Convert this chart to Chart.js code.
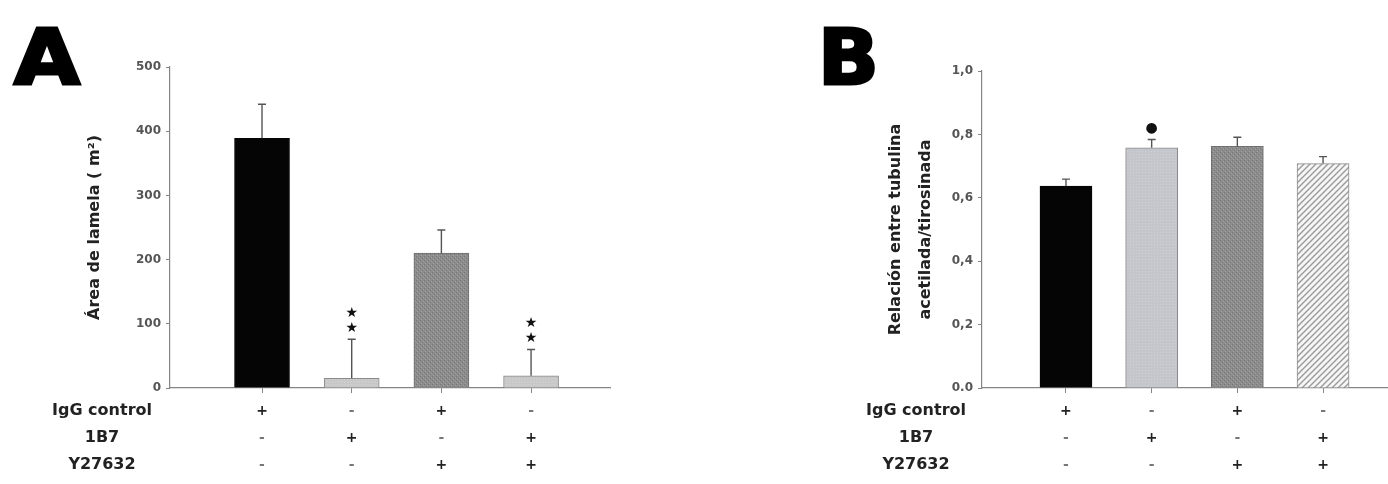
<!DOCTYPE html>
<html>
<head>
<meta charset="utf-8">
<script src="https://cdn.jsdelivr.net/npm/chart.js@4.4.1/dist/chart.umd.min.js"></script>
<style>
html, body { margin: 0; padding: 0; background: #fff; }
#wrap { position: relative; width: 1388px; height: 484px; overflow: hidden; }
#boxA { position: absolute; left: 0; top: 0; width: 700px; height: 484px; }
#boxB { position: absolute; left: 700px; top: 0; width: 688px; height: 484px; }
</style>
</head>
<body>
<div id="wrap">
  <div id="boxA"><canvas id="chartA"></canvas></div>
  <div id="boxB"><canvas id="chartB"></canvas></div>
</div>
<script>
// grupos y filas de tratamiento
const groups = [1, 2, 3, 4];
const rowLabels = ['IgG control', '1B7', 'Y27632'];
const signIgG = ['+', '-', '+', '-'];
const sign1B7 = ['-', '+', '-', '+'];
const signY = ['-', '-', '+', '+'];

// panel A
const areaMean = [389, 15, 210, 19];
const areaErr = [53, 61, 36, 41];
const areaSig = ['', '★★', '', '★★'];
const areaTicks = ['0', '100', '200', '300', '400', '500'];

// panel B
const ratioMean = [0.637, 0.758, 0.762, 0.708];
const ratioErr = [0.022, 0.026, 0.029, 0.022];
const ratioSig = ['', '●', '', ''];
const ratioTicks = ['0.0', '0,2', '0,4', '0,6', '0,8', '1,0'];

const FONT = '"DejaVu Sans", sans-serif';
const AXIS = '#858585';

function makePattern(size, draw) {
    const c = document.createElement('canvas');
    c.width = c.height = size;
    const g = c.getContext('2d');
    draw(g, size);
    return g.createPattern(c, 'repeat');
}

const lightFill = makePattern(3, (g) => {
    g.fillStyle = '#c7c7c7'; g.fillRect(0, 0, 3, 3);
    g.fillStyle = '#d3d3d3'; g.fillRect(0, 0, 1, 1); g.fillRect(2, 1, 1, 1);
});
const lightBlue = makePattern(3, (g) => {
    g.fillStyle = '#c4c6cc'; g.fillRect(0, 0, 3, 3);
    g.fillStyle = '#cfd1d6'; g.fillRect(1, 1, 1, 1);
});
const crossFill = makePattern(4, (g) => {
    g.fillStyle = '#8c8c8c'; g.fillRect(0, 0, 4, 4);
    g.fillStyle = '#787878'; g.fillRect(0, 0, 1, 1); g.fillRect(2, 2, 1, 1);
    g.fillStyle = '#a2a2a2'; g.fillRect(1, 3, 1, 1); g.fillRect(3, 1, 1, 1);
});
const hatchFill = makePattern(6, (g) => {
    g.fillStyle = '#f6f6f6'; g.fillRect(0, 0, 6, 6);
    g.strokeStyle = '#9a9a9a'; g.lineWidth = 1.4;
    g.beginPath();
    g.moveTo(0, 6); g.lineTo(6, 0);
    g.moveTo(-1, 1); g.lineTo(1, -1);
    g.moveTo(5, 7); g.lineTo(7, 5);
    g.stroke();
});

// barras de error, marcas, filas +/- y letra del panel
const extras = {
    id: 'extras',
    afterDatasetsDraw(chart, args, o) {
        const { ctx } = chart;
        const xs = chart.scales.x, ys = chart.scales.y;
        ctx.save();
        ctx.strokeStyle = '#555';
        ctx.lineWidth = 1.4;
        o.mean.forEach((m, i) => {
            const x = xs.getPixelForValue(groups[i]);
            const y0 = ys.getPixelForValue(m);
            const y1 = ys.getPixelForValue(m + o.err[i]);
            ctx.beginPath();
            ctx.moveTo(x, y0); ctx.lineTo(x, y1);
            ctx.moveTo(x - 4, y1); ctx.lineTo(x + 4, y1);
            ctx.stroke();
            const s = o.sig[i];
            if (s) {
                ctx.fillStyle = '#111';
                ctx.textAlign = 'center';
                ctx.textBaseline = 'middle';
                ctx.font = '14px ' + FONT;
                [...s].forEach((ch, k) => ctx.fillText(ch, x, y1 - 11 - k * 15));
            }
        });

        // filas de tratamiento
        const rows = [signIgG, sign1B7, signY];
        ctx.textAlign = 'center';
        ctx.textBaseline = 'middle';
        rows.forEach((row, r) => {
            const y = o.rowY[r];
            ctx.fillStyle = '#222';
            ctx.font = 'bold 16px ' + FONT;
            ctx.fillText(rowLabels[r], o.rowX, y);
            row.forEach((sg, i) => {
                const x = xs.getPixelForValue(groups[i]);
                ctx.font = 'bold 14px ' + FONT;
                ctx.fillStyle = sg === '+' ? '#222' : '#777';
                ctx.fillText(sg, x, y);
            });
        });

        // letra del panel, engrosada con trazo
        ctx.fillStyle = '#000';
        ctx.strokeStyle = '#000';
        ctx.lineWidth = 3;
        ctx.lineJoin = 'miter';
        ctx.textAlign = 'left';
        ctx.textBaseline = 'alphabetic';
        ctx.font = 'bold 76px ' + FONT;
        ctx.save();
        ctx.translate(o.letterX, 84);
        ctx.scale(o.letterScale, 1);
        ctx.fillText(o.letter, 0, 0);
        ctx.strokeText(o.letter, 0, 0);
        ctx.restore();
        ctx.restore();
    }
};

function buildChart(id, cfg) {
    return new Chart(document.getElementById(id), {
        type: 'bar',
        data: {
            datasets: [{
                data: groups.map((g, i) => ({ x: g, y: cfg.mean[i] })),
                backgroundColor: cfg.colors,
                borderColor: cfg.borders,
                borderWidth: 1,
                borderSkipped: 'bottom',
                barThickness: cfg.barWidth
            }]
        },
        options: {
            responsive: true,
            maintainAspectRatio: false,
            animation: false,
            layout: { padding: cfg.padding },
            plugins: {
                legend: { display: false },
                tooltip: { enabled: false },
                extras: cfg.extras
            },
            scales: {
                x: {
                    type: 'linear',
                    min: cfg.xMin,
                    max: cfg.xMax,
                    offset: false,
                    afterBuildTicks: (s) => { s.ticks = groups.map(v => ({ value: v })); },
                    ticks: { display: false },
                    grid: { offset: false, drawOnChartArea: false, drawTicks: true, tickLength: 5, color: AXIS },
                    border: { color: AXIS, width: 1.2 },
                    afterFit: (s) => { s.height = 20; }
                },
                y: {
                    min: 0,
                    max: cfg.yMax,
                    ticks: {
                        stepSize: cfg.yStep,
                        callback: (v, i) => cfg.yLabels[i],
                        color: '#555',
                        padding: 5,
                        font: { family: FONT, size: 12, weight: 'bold' }
                    },
                    grid: { drawOnChartArea: false, drawTicks: true, tickLength: 4, color: AXIS },
                    border: { color: AXIS, width: 1.2 },
                    title: {
                        display: true,
                        text: cfg.yTitle,
                        color: '#222',
                        padding: { top: 4, bottom: 4 },
                        font: { family: FONT, size: 16, weight: 'bold', lineHeight: cfg.titleLH }
                    },
                    afterFit: (s) => { s.width = cfg.yWidth; }
                }
            }
        },
        plugins: [extras]
    });
}

buildChart('chartA', {
    mean: areaMean,
    colors: ['#050505', lightFill, crossFill, lightFill],
    borders: ['#050505', '#8a8a8a', '#6e6e6e', '#8a8a8a'],
    barWidth: 55,
    padding: { left: 81, top: 67, right: 90, bottom: 76 },
    xMin: -0.026, xMax: 4.88,
    yMax: 500, yStep: 100, yLabels: areaTicks,
    yTitle: 'Área de lamela ( m²)',
    titleLH: 1.2,
    yWidth: 89,
    extras: {
        mean: areaMean, err: areaErr, sig: areaSig,
        rowX: 102, rowY: [411, 438, 465],
        letter: 'A', letterX: 14, letterScale: 1.12
    }
});

buildChart('chartB', {
    mean: ratioMean,
    colors: ['#050505', lightBlue, crossFill, hatchFill],
    borders: ['#050505', '#8a8a8a', '#6e6e6e', '#8a8a8a'],
    barWidth: 52,
    padding: { left: 177, top: 71, right: 0, bottom: 76 },
    xMin: 0.02, xMax: 4.758,
    yMax: 1.0, yStep: 0.2, yLabels: ratioTicks,
    yTitle: ['Relación entre tubulina', 'acetilada/tirosinada'],
    titleLH: 1.875,
    yWidth: 105,
    extras: {
        mean: ratioMean, err: ratioErr, sig: ratioSig,
        rowX: 216, rowY: [411, 438, 465],
        letter: 'B', letterX: 118, letterScale: 1.05
    }
});
</script>
</body>
</html>
